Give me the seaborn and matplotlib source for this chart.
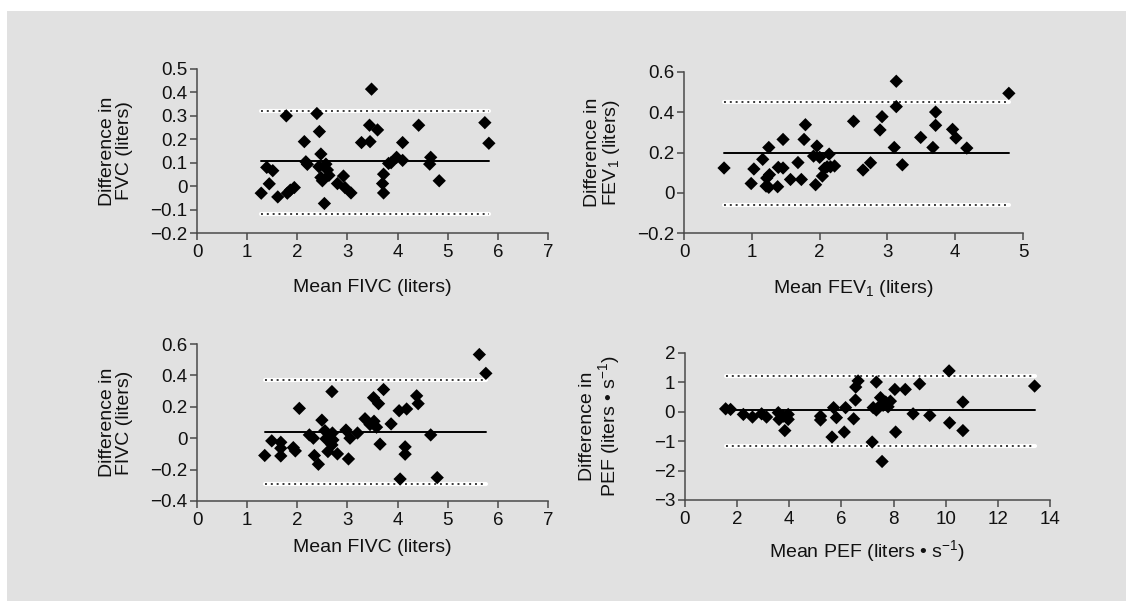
import matplotlib
matplotlib.use("Agg")
import matplotlib.pyplot as plt
import seaborn as sns
import pandas as pd
from matplotlib.ticker import MultipleLocator, FuncFormatter

# === DATOS ===
fvc_mean = [1.28, 1.39, 1.44, 1.51, 1.61, 1.78, 1.80, 1.86, 1.94, 2.14, 2.17, 2.20,
            2.39, 2.44, 2.47, 2.43, 2.47, 2.50, 2.54, 2.57, 2.60, 2.63, 2.80, 2.92,
            2.95, 3.07, 3.28, 3.44, 3.45, 3.48, 3.60, 3.70, 3.72, 3.72, 3.82, 3.87,
            3.98, 4.10, 4.10, 4.42, 4.64, 4.66, 4.83, 5.74, 5.82]
fvc_diff = [-0.03, 0.08, 0.01, 0.066, -0.046, 0.30, -0.03, -0.017, -0.006, 0.19, 0.104, 0.093,
            0.31, 0.233, 0.137, 0.083, 0.037, 0.023, -0.074, 0.094, 0.069, 0.046, 0.011, 0.043,
            -0.006, -0.029, 0.186, 0.26, 0.19, 0.414, 0.24, 0.011, 0.051, -0.029, 0.097, 0.10,
            0.123, 0.186, 0.11, 0.26, 0.094, 0.123, 0.023, 0.271, 0.183]
fvc_lines = [0.107, 0.321, -0.12]

fev1_mean = [0.59, 0.99, 1.03, 1.16, 1.21, 1.25, 1.25, 1.26, 1.22, 1.39, 1.38, 1.46,
             1.46, 1.57, 1.68, 1.73, 1.77, 1.79, 1.91, 1.94, 1.96, 2.00, 2.04, 2.07,
             2.11, 2.14, 2.16, 2.22, 2.50, 2.64, 2.75, 2.89, 2.92, 3.10, 3.13, 3.13,
             3.22, 3.49, 3.67, 3.71, 3.71, 3.96, 4.01, 4.17, 4.79]
fev1_diff = [0.123, 0.046, 0.118, 0.166, 0.033, 0.225, 0.027, 0.09, 0.073, 0.126, 0.03, 0.265,
             0.123, 0.066, 0.15, 0.066, 0.265, 0.338, 0.182, 0.04, 0.232, 0.176, 0.083, 0.121,
             0.129, 0.192, 0.129, 0.133, 0.355, 0.113, 0.149, 0.312, 0.378, 0.225, 0.554, 0.428,
             0.139, 0.275, 0.225, 0.401, 0.335, 0.315, 0.272, 0.222, 0.494]
fev1_lines = [0.197, 0.449, -0.061]

fivc_mean = [1.35, 1.49, 1.67, 1.67, 1.67, 1.92, 1.96, 2.04, 2.24, 2.32, 2.34, 2.42,
             2.49, 2.55, 2.57, 2.61, 2.69, 2.70, 2.71, 2.69, 2.80, 2.97, 3.02, 3.05,
             3.20, 3.35, 3.45, 3.52, 3.53, 3.58, 3.62, 3.65, 3.72, 3.87, 4.03, 4.05,
             4.15, 4.15, 4.18, 4.38, 4.41, 4.66, 4.79, 5.63, 5.76]
fivc_diff = [-0.11, -0.017, -0.026, -0.064, -0.113, -0.06, -0.081, 0.19, 0.021, 0.0, -0.11, -0.166,
             0.115, 0.048, -0.004, -0.085, 0.297, 0.033, -0.011, -0.043, -0.10, 0.052, -0.132, 0.0,
             0.033, 0.124, 0.087, 0.258, 0.108, 0.07, 0.22, -0.038, 0.31, 0.091, 0.175, -0.26,
             -0.055, -0.102, 0.186, 0.27, 0.22, 0.021, -0.251, 0.533, 0.413]
fivc_lines = [0.042, 0.372, -0.293]

pef_mean = [1.56, 1.75, 2.24, 2.59, 2.94, 3.13, 3.58, 3.61, 3.77, 3.83, 3.96, 3.96,
            5.20, 5.20, 5.64, 5.70, 5.81, 6.11, 6.16, 6.47, 6.54, 6.55, 6.64, 7.18,
            7.22, 7.34, 7.34, 7.44, 7.50, 7.56, 7.60, 7.70, 7.79, 7.88, 8.08, 8.05,
            8.45, 8.75, 9.00, 9.39, 10.13, 10.15, 10.66, 10.66, 13.41]
pef_diff = [0.10, 0.08, -0.09, -0.18, -0.07, -0.18, -0.03, -0.26, -0.15, -0.64, -0.09, -0.26,
            -0.15, -0.28, -0.86, 0.14, -0.20, -0.69, 0.14, -0.24, 0.40, 0.84, 1.05, -1.03,
            0.14, 1.01, 0.06, 0.17, 0.48, -1.69, 0.22, 0.33, 0.17, 0.36, -0.69, 0.76,
            0.76, -0.07, 0.95, -0.125, 1.39, -0.375, 0.33, -0.64, 0.875]
pef_lines = [0.045, 1.22, -1.15]

# === ESTILO ===
sns.set_style("white")
plt.rcParams["font.family"] = ["Liberation Sans", "DejaVu Sans"]
plt.rcParams["mathtext.fontset"] = "custom"
plt.rcParams["mathtext.rm"] = "Liberation Sans"
plt.rcParams["mathtext.it"] = "Liberation Sans"
plt.rcParams["mathtext.default"] = "regular"

bg = "#e1e1e1"
spine_col = "#4a4a4a"
txt_col = "#111111"

fig = plt.figure(figsize=(11.26, 6.01), dpi=100, facecolor="white")
fig.patches.append(plt.Rectangle((7 / 1126, 0), 1 - 7 / 1126, 1 - 11 / 601,
                                 transform=fig.transFigure, facecolor=bg,
                                 edgecolor="none", zorder=-10))

fmt = FuncFormatter(lambda v, p: f"{v:g}".replace("-", "\u2212"))

paneles = [
    dict(x=fvc_mean, y=fvc_diff, lines=fvc_lines, pos=[0.1750, 0.6123, 0.3117, 0.2729],
         xlim=(0, 7), xstep=1, ylim=(-0.2, 0.5), ystep=0.1,
         xlabel="Mean FIVC (liters)", ylabel="Difference in\nFVC (liters)",
         xl=-0.28, yl=-0.182),
    dict(x=fev1_mean, y=fev1_diff, lines=fev1_lines, pos=[0.6075, 0.6123, 0.3011, 0.2679],
         xlim=(0, 5), xstep=1, ylim=(-0.2, 0.6), ystep=0.2,
         xlabel="Mean FEV$_1$ (liters)", ylabel="Difference in\nFEV$_1$ (liters)",
         xl=-0.28, yl=-0.183),
    dict(x=fivc_mean, y=fivc_diff, lines=fivc_lines, pos=[0.1750, 0.1664, 0.3117, 0.2612],
         xlim=(0, 7), xstep=1, ylim=(-0.4, 0.6), ystep=0.2,
         xlabel="Mean FIVC (liters)", ylabel="Difference in\nFIVC (liters)",
         xl=-0.242, yl=-0.182),
    dict(x=pef_mean, y=pef_diff, lines=pef_lines, pos=[0.6083, 0.1681, 0.3242, 0.2446],
         xlim=(0, 14), xstep=2, ylim=(-3, 2), ystep=1,
         xlabel="Mean PEF (liters \u2022 s$^{\u22121}$)",
         ylabel="Difference in\nPEF (liters \u2022 s$^{\u22121}$)",
         xl=-0.26, yl=-0.173),
]

for p in paneles:
    ax = fig.add_axes(p["pos"])
    ax.set_facecolor("none")
    df = pd.DataFrame({"x": p["x"], "y": p["y"]})
    x0, x1 = df["x"].min(), df["x"].max()
    media, sup, inf = p["lines"]

    # límites de concordancia (punteados) y media
    for lim in (sup, inf):
        ax.plot([x0, x1], [lim, lim], color="white", lw=3.0, zorder=1)
        ax.plot([x0, x1], [lim, lim], color="#3a3a3a", lw=1.4,
                linestyle=(0, (1, 2.0)), zorder=2)
    ax.plot([x0, x1], [media, media], color="black", lw=1.4, zorder=2)

    sns.scatterplot(data=df, x="x", y="y", ax=ax, marker="D", s=46,
                    color="black", edgecolor="none", linewidth=0, zorder=3)

    ax.set_xlim(*p["xlim"])
    ax.set_ylim(*p["ylim"])
    ax.xaxis.set_major_locator(MultipleLocator(p["xstep"]))
    ax.yaxis.set_major_locator(MultipleLocator(p["ystep"]))
    ax.xaxis.set_major_formatter(fmt)
    ax.yaxis.set_major_formatter(fmt)

    for s in ("top", "right"):
        ax.spines[s].set_visible(False)
    for s in ("left", "bottom"):
        ax.spines[s].set_color(spine_col)
        ax.spines[s].set_linewidth(1.1)
    ax.tick_params(axis="both", direction="out", length=5, width=1.1,
                   color=spine_col, labelsize=13.5, labelcolor=txt_col)
    ax.tick_params(axis="x", pad=3)
    ax.tick_params(axis="y", pad=2)
    ax.tick_params(left=True, bottom=True)

    ax.set_xlabel(p["xlabel"], fontsize=14, color=txt_col)
    ax.set_ylabel(p["ylabel"], fontsize=14, color=txt_col, linespacing=1.0)
    ax.xaxis.set_label_coords(0.5, p["xl"])
    ax.yaxis.set_label_coords(p["yl"], 0.5)

fig.savefig("out.png", dpi=100, facecolor=fig.get_facecolor())
